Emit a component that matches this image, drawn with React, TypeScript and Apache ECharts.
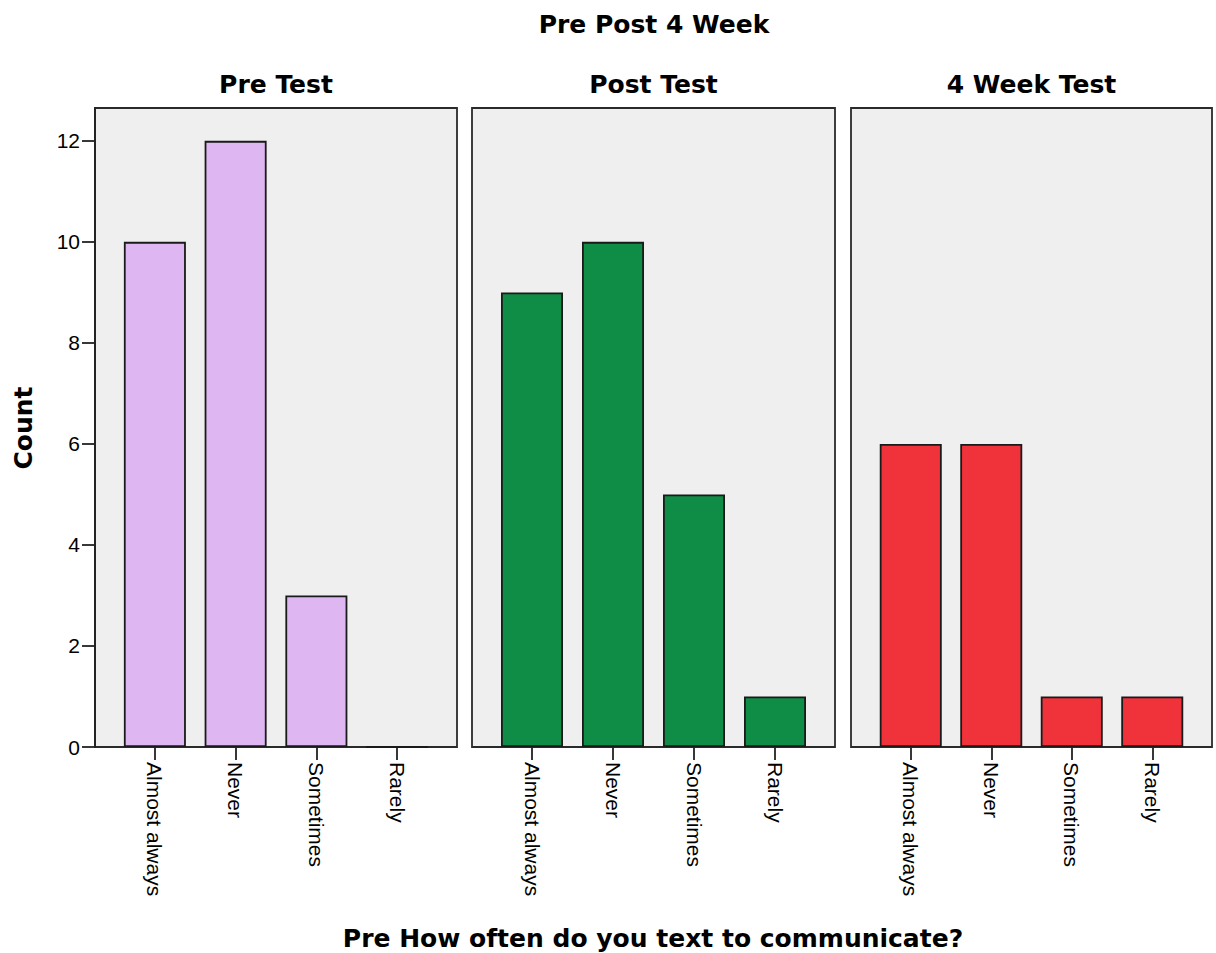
import React, { useEffect, useRef } from "react";
import * as echarts from "echarts";

const categories = ["Almost always", "Never", "Sometimes", "Rarely"];
const panelTitles = ["Pre Test", "Post Test", "4 Week Test"];
const preValues = [10, 12, 3, 0];
const postValues = [9, 10, 5, 1];
const weekValues = [6, 6, 1, 1];
const yTicks = [0, 2, 4, 6, 8, 10, 12];
const mainTitle = "Pre Post 4 Week";
const yTitle = "Count";
const xTitle = "Pre How often do you text to communicate?";

const seriesValues = [preValues, postValues, weekValues];
const colors = ["#DEB7F2", "#0F8C46", "#F0323A"];
const panels = [
  { left: 95, width: 362 },
  { left: 472, width: 363 },
  { left: 851, width: 361 },
];
const TOP = 108;
const HEIGHT = 639;
const YMAX = 12.65;
const INSET = 19.5;
const BOLD = { fontFamily: "DejaVu Sans", fontWeight: "bold", fontSize: 25, fill: "#000" };

export default function App() {
  const ref = useRef<HTMLDivElement>(null);
  useEffect(() => {
    if (!ref.current) return;
    const chart = echarts.init(ref.current, null, { renderer: "svg" });
    const grid: any[] = [];
    const xAxis: any[] = [];
    const yAxis: any[] = [];
    const series: any[] = [];
    panels.forEach((p, i) => {
      grid.push({
        left: p.left,
        top: TOP,
        width: p.width,
        height: HEIGHT,
        show: true,
        backgroundColor: "#EFEFEF",
        borderColor: "#2a2a2a",
        borderWidth: 1.8,
        z: 0,
      });
      xAxis.push({ gridIndex: i, type: "value", show: false, min: 0, max: 1 });
      yAxis.push({
        gridIndex: i,
        type: "value",
        min: 0,
        max: YMAX,
        show: i === 0,
        splitLine: { show: false },
        axisLine: { show: true, lineStyle: { color: "#222", width: 1.8 } },
        axisTick: {
          show: true,
          length: 13,
          lineStyle: { color: "#222", width: 1.8 },
          customValues: yTicks,
        },
        axisLabel: {
          show: true,
          margin: 15,
          color: "#000",
          fontSize: 21,
          fontFamily: "Liberation Sans",
          customValues: yTicks,
        },
      });
    });
    panels.forEach((p, i) => {
      const gi = i + 3;
      grid.push({
        left: p.left + INSET,
        top: TOP,
        width: p.width - 2 * INSET,
        height: HEIGHT,
        show: false,
      });
      xAxis.push({
        gridIndex: gi,
        type: "category",
        data: categories,
        axisLine: { show: false },
        axisTick: {
          show: true,
          alignWithLabel: true,
          length: 13,
          lineStyle: { color: "#222", width: 1.8 },
        },
        axisLabel: {
          rotate: -90,
          margin: 15,
          color: "#000",
          fontSize: 21,
          fontFamily: "Liberation Sans",
          interval: 0,
        },
      });
      yAxis.push({ gridIndex: gi, type: "value", min: 0, max: YMAX, show: false });
      series.push({
        type: "bar",
        xAxisIndex: gi,
        yAxisIndex: gi,
        data: seriesValues[i],
        barWidth: 62,
        itemStyle: { color: colors[i], borderColor: "#1a1a1a", borderWidth: 1.8 },
        z: 5,
      });
    });

    const graphic: any[] = [
      { type: "text", x: 654, y: 24, style: { ...BOLD, text: mainTitle, align: "center", verticalAlign: "middle" } },
      ...panels.map((p, i) => ({
        type: "text",
        x: p.left + p.width / 2,
        y: 84,
        style: { ...BOLD, text: panelTitles[i], align: "center", verticalAlign: "middle" },
      })),
      {
        type: "text",
        x: 23,
        y: 428,
        rotation: Math.PI / 2,
        style: { ...BOLD, text: yTitle, align: "center", verticalAlign: "middle" },
      },
      { type: "text", x: 653, y: 938, style: { ...BOLD, text: xTitle, align: "center", verticalAlign: "middle" } },
    ];

    chart.setOption({
      animation: false,
      backgroundColor: "#fff",
      grid,
      xAxis,
      yAxis,
      series,
      graphic,
    });
    return () => chart.dispose();
  }, []);
  return (
    <div
      ref={ref}
      style={{ position: "fixed", left: 0, top: 0, width: 1216, height: 953 }}
    />
  );
}
